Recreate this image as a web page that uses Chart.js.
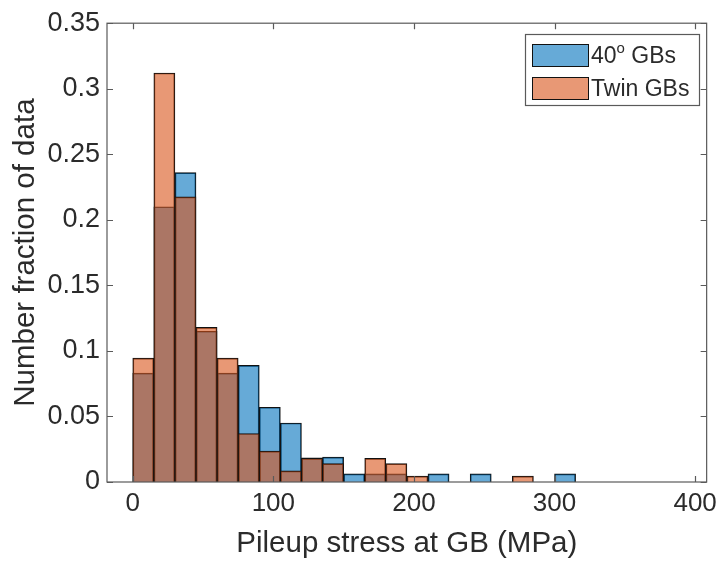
<!DOCTYPE html>
<html>
<head>
<meta charset="utf-8">
<script src="https://cdn.jsdelivr.net/npm/chart.js@4.4.0/dist/chart.umd.min.js"></script>
<style>
  html, body { margin: 0; padding: 0; background: #fff; }
  #wrap { width: 723px; height: 562px; position: relative; }
</style>
</head>
<body>
<div id="wrap"><canvas id="hist"></canvas></div>
<script>
// Histogram bins (MPa), centres of 15 MPa wide bins
const binCenters = [7.5, 22.5, 37.5, 52.5, 67.5, 82.5, 97.5, 112.5, 127.5, 142.5, 157.5,
                    172.5, 187.5, 202.5, 217.5, 232.5, 247.5, 262.5, 277.5, 292.5, 307.5];

// Number fraction per bin
const gb40 = [0.083, 0.210, 0.236, 0.115, 0.083, 0.089, 0.057, 0.045, 0.0185, 0.019, 0.0062,
              0.0062, 0.0062, 0, 0.0062, 0, 0.0062, 0, 0, 0, 0.0062];
const twinGb = [0.0945, 0.312, 0.2175, 0.118, 0.0945, 0.037, 0.0235, 0.0085, 0.018, 0.014, 0,
                0.018, 0.014, 0.0045, 0, 0, 0, 0, 0.0045, 0, 0];

const xTicks = [0, 100, 200, 300, 400];
const yTicks = [0, 0.05, 0.1, 0.15, 0.2, 0.25, 0.3, 0.35];
const yTickLabels = ['0', '0.05', '0.1', '0.15', '0.2', '0.25', '0.3', '0.35'];

const BLUE = 'rgba(0, 114, 189, 0.6)';
const ORANGE = 'rgba(217, 83, 25, 0.6)';
const AXIS = '#2b2b2b';
const FONT = "'Liberation Sans', Arial, sans-serif";

// Box around the axes, inward ticks and the in-plot legend
const boxPlugin = {
    id: 'matlabBox',
    afterDraw(chart) {
        const { ctx, chartArea: a, scales } = chart;
        const len = 6;
        ctx.save();
        ctx.strokeStyle = '#5a5a5a';
        ctx.lineWidth = 1.2;
        ctx.strokeRect(a.left, a.top, a.right - a.left, a.bottom - a.top);

        ctx.beginPath();
        xTicks.forEach(v => {
            const px = Math.round(scales.x.getPixelForValue(v)) + 0.5;
            ctx.moveTo(px, a.bottom); ctx.lineTo(px, a.bottom - len);
            ctx.moveTo(px, a.top); ctx.lineTo(px, a.top + len);
        });
        yTicks.forEach(v => {
            const py = Math.round(scales.y.getPixelForValue(v)) + 0.5;
            ctx.moveTo(a.left, py); ctx.lineTo(a.left + len, py);
            ctx.moveTo(a.right, py); ctx.lineTo(a.right - len, py);
        });
        ctx.stroke();

        // legend
        const lx = 525, ly = 34, lw = 174, lh = 71;
        ctx.fillStyle = '#fff';
        ctx.fillRect(lx, ly, lw, lh);
        ctx.strokeStyle = '#5a5a5a';
        ctx.lineWidth = 1.2;
        ctx.strokeRect(lx + 0.5, ly + 0.5, lw, lh);

        const rows = [
            { color: BLUE, y: 44, parts: [['40', 0], ['o', 1], [' GBs', 0]] },
            { color: ORANGE, y: 77, parts: [['Twin GBs', 0]] }
        ];
        rows.forEach(r => {
            ctx.fillStyle = '#fff';
            ctx.fillRect(532, r.y, 56, 22);
            ctx.fillStyle = r.color;
            ctx.fillRect(532, r.y, 56, 22);
            ctx.strokeStyle = '#111';
            ctx.lineWidth = 1;
            ctx.strokeRect(532.5, r.y + 0.5, 56, 22);

            let tx = 591;
            const base = r.y + 19;
            ctx.fillStyle = AXIS;
            ctx.textBaseline = 'alphabetic';
            ctx.textAlign = 'left';
            r.parts.forEach(([txt, sup]) => {
                ctx.font = (sup ? 15 : 23) + 'px ' + FONT;
                ctx.fillText(txt, tx, sup ? base - 10 : base);
                tx += ctx.measureText(txt).width;
            });
        });
        ctx.restore();
    }
};

const ctx = document.getElementById('hist');
new Chart(ctx, {
    type: 'bar',
    data: {
        datasets: [
            {
                label: '40° GBs',
                data: binCenters.map((c, i) => ({ x: c, y: gb40[i] })),
                backgroundColor: BLUE,
                borderColor: '#111',
                borderWidth: 1,
                order: 2
            },
            {
                label: 'Twin GBs',
                data: binCenters.map((c, i) => ({ x: c, y: twinGb[i] })),
                backgroundColor: ORANGE,
                borderColor: '#111',
                borderWidth: 1,
                order: 1
            }
        ]
    },
    options: {
        responsive: true,
        maintainAspectRatio: false,
        animation: false,
        grouped: false,
        barPercentage: 1,
        categoryPercentage: 1,
        layout: { padding: { top: 19, right: 10, left: 0, bottom: 0 } },
        plugins: {
            legend: { display: false },
            tooltip: { enabled: false }
        },
        scales: {
            x: {
                type: 'linear',
                offset: false,
                min: -18.3,
                max: 408.2,
                afterBuildTicks: s => { s.ticks = xTicks.map(v => ({ value: v })); },
                afterFit: s => { s.height = 80; },
                grid: { display: false, drawTicks: false, offset: false },
                border: { display: false },
                ticks: {
                    color: AXIS,
                    font: { family: FONT, size: 26 },
                    padding: 6,
                    maxRotation: 0,
                    callback: v => String(v)
                },
                title: {
                    display: true,
                    text: 'Pileup stress at GB (MPa)',
                    color: AXIS,
                    font: { family: FONT, size: 29.5, lineHeight: 1 },
                    padding: { top: 0, bottom: 3 }
                }
            },
            y: {
                min: 0,
                max: 0.35,
                afterBuildTicks: s => { s.ticks = yTicks.map(v => ({ value: v })); },
                afterFit: s => { s.width = 107; },
                grid: { display: false, drawTicks: false },
                border: { display: false },
                ticks: {
                    color: AXIS,
                    font: { family: FONT, size: 27 },
                    padding: 7,
                    callback: (v, i) => yTickLabels[i]
                },
                title: {
                    display: true,
                    text: 'Number fraction of data',
                    color: AXIS,
                    font: { family: FONT, size: 29.5, lineHeight: 1 },
                    padding: { top: 11, bottom: 0 }
                }
            }
        }
    },
    plugins: [boxPlugin]
});
</script>
</body>
</html>
